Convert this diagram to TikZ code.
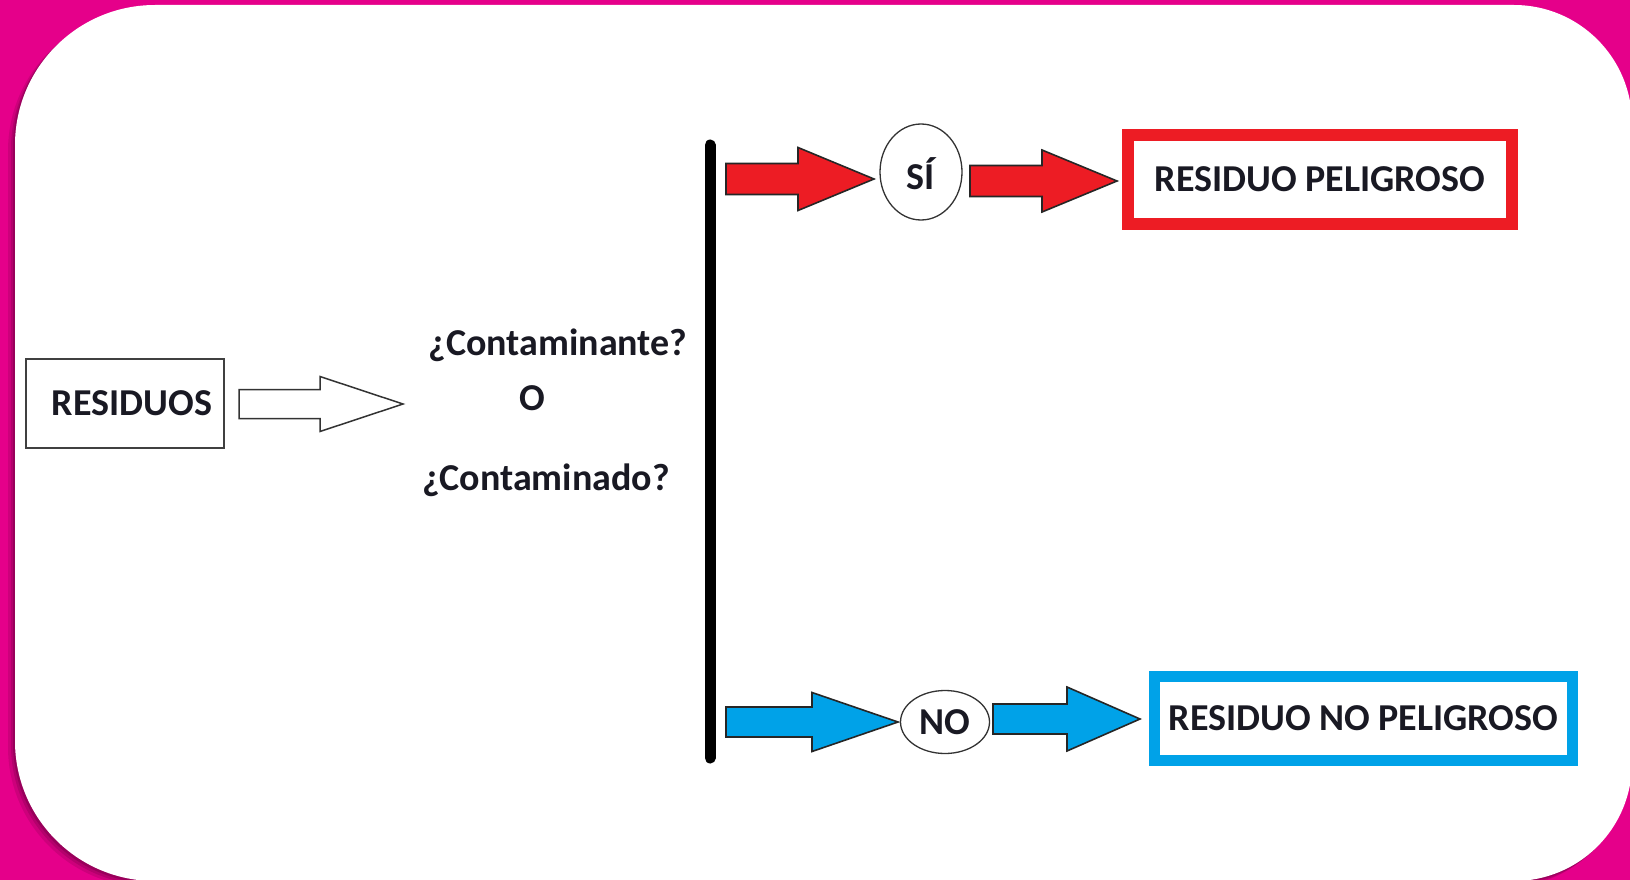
\documentclass[tikz,border=0pt]{standalone}
\usepackage{fontspec}
\setmainfont{Carlito}
\usetikzlibrary{calc,shapes.geometric}
\definecolor{bgpink}{RGB}{229,0,138}
\definecolor{redA}{RGB}{237,28,36}
\definecolor{blueA}{RGB}{0,162,232}
\definecolor{inkA}{RGB}{25,25,35}
\tikzset{
  lbl/.style={font=\fontsize{38}{44}\selectfont\bfseries, text=inkA, inner sep=0pt, text height=24.5pt, text depth=0pt},
  plainbox/.style={lbl, draw=black!75, line width=2pt, minimum width=198pt, minimum height=89pt},
  redbox/.style={lbl, draw=redA, line width=12pt, minimum width=384pt, minimum height=89pt},
  bluebox/.style={lbl, draw=blueA, line width=11pt, minimum width=418pt, minimum height=84pt},
  choice/.style={lbl, ellipse, draw=black!80, line width=1.3pt, fill=white},
  hollowarrow/.style={draw=black!80, line width=1.5pt, fill=white},
  redarrow/.style={draw=black!85, line width=1.6pt, fill=redA},
  bluearrow/.style={draw=black!85, line width=1.6pt, fill=blueA},
  barline/.style={line width=11pt, line cap=round, draw=black},
}
\newcommand\panelfill[1]{%
  \begin{scope}\clip (0,0) rectangle (820,880); \fill[#1, rounded corners=140pt] (15,5) rectangle (1632,881);\end{scope}
  \begin{scope}\clip (820,0) rectangle (1630,880); \fill[#1, rounded corners=118pt] (15,5) rectangle (1632,881);\end{scope}}
\newcommand\blockarrow[6]{%
  \draw[#1] ($(#2)+(0,-#5)$) -- ($(#3)+(-#4,-#5)$) -- ($(#3)+(-#4,-#6)$) -- (#3)
    -- ($(#3)+(-#4,#6)$) -- ($(#3)+(-#4,#5)$) -- ($(#2)+(0,#5)$) -- cycle;}
\begin{document}
\begin{tikzpicture}[x=1pt,y=-1pt]
\useasboundingbox (0,0) rectangle (1630,880);
% background
\fill[bgpink] (0,0) rectangle (1630,880);
\begin{scope}[shift={(-7,6)}]\panelfill{black,opacity=0.10}\end{scope}
\begin{scope}[shift={(-4,4)}]\panelfill{black,opacity=0.12}\end{scope}
\begin{scope}[shift={(-2,2)}]\panelfill{black,opacity=0.15}\end{scope}
\panelfill{white}

% nodes
\node[plainbox] (res) at (125,403.5) {\hspace*{14pt}RESIDUOS};
\node[lbl] (q1) at (558,343) {¿Contaminante?};
\node[lbl] (q2) at (532,398) {O};
\node[lbl] (q3) at (546,478) {¿Contaminado?};
\node[choice, minimum width=82pt, minimum height=96pt, text height=34.5pt] (si) at (921,172) {SÍ};
\node[choice, minimum width=89pt, minimum height=63pt] (no) at (945,722) {NO};
\node[redbox] (pel) at (1320,179.5) {RESIDUO PELIGROSO};
\node[bluebox] (nopel) at (1363.5,718.5) {RESIDUO NO PELIGROSO};

% vertical bar
\coordinate (bartop) at (710,145);
\coordinate (barbot) at (710,758);
\draw[barline] (bartop) -- (barbot);

% arrow end points
\coordinate (w0) at (239,404);  \coordinate (w1) at (403,404);
\coordinate (r0) at (726,179);  \coordinate (r1) at (874,179);
\coordinate (r2) at (970,181);  \coordinate (r3) at (1117,181);
\coordinate (b0) at (726,722);  \coordinate (b1) at (898,722);
\coordinate (b2) at (993,719);  \coordinate (b3) at (1140,719);

\blockarrow{hollowarrow}{w0}{w1}{83}{14.5}{27.5}
\blockarrow{redarrow}{r0}{r1}{76}{15.5}{31.5}
\blockarrow{redarrow}{r2}{r3}{75}{15.5}{31}
\blockarrow{bluearrow}{b0}{b1}{86}{15}{29.5}
\blockarrow{bluearrow}{b2}{b3}{73}{15}{32}
\end{tikzpicture}
\end{document}
